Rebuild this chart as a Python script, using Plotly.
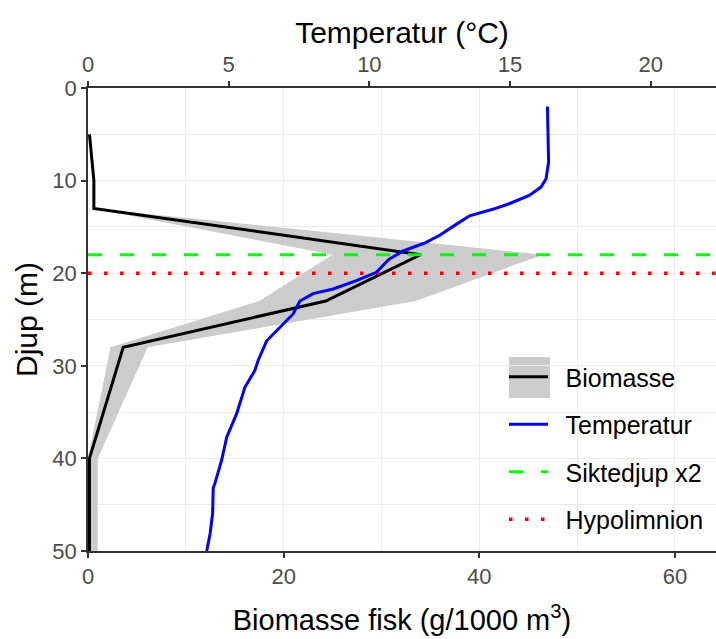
import plotly.graph_objects as go

# ---------------- data ----------------
bio_depth = [5, 7.5, 10, 13, 18, 23, 28, 40, 50]
bio_mean = [0.15, 0.4, 0.6, 0.6, 34.0, 24.3, 3.6, 0.15, 0.15]
bio_low = [0.1, 0.3, 0.5, 0.5, 25.0, 17.5, 2.3, 0.0, 0.0]
bio_high = [0.2, 0.5, 0.7, 0.7, 46.5, 33.5, 6.1, 1.0, 1.0]

temp_depth = [2, 8, 9.8, 10.7, 11.6, 12.5, 13.1, 13.8, 14.7, 15.9, 16.7, 17.6,
              18.5, 19.9, 20.8, 21.7, 22.2, 23.0, 24.4, 25.8, 27.3, 29.4, 30.5,
              32.3, 35.2, 37.7, 40.2, 42.7, 43.2, 45.9, 48.1, 50]
temp_c = [16.33, 16.37, 16.28, 16.1, 15.68, 14.97, 14.38, 13.56, 13.1, 12.5,
          12.0, 11.2, 10.7, 10.25, 9.54, 8.71, 8.0, 7.53, 7.29, 6.82, 6.35,
          6.05, 5.93, 5.58, 5.28, 4.93, 4.75, 4.51, 4.45, 4.43, 4.34, 4.22]

siktedjup_x2 = 18
hypolimnion = 20

bio_ticks = [0, 20, 40, 60]
temp_ticks = [0, 5, 10, 15, 20]
depth_ticks = [0, 10, 20, 30, 40, 50]

bio_range = [0, 64.2]
temp_range = [0, 22.32]
depth_range = [50, 0]

FONT = "Liberation Sans, Arial, sans-serif"
GRID = "#EBEBEB"
AXIS = "#333333"
TICKTXT = "#4D4D4D"
PAD = "\u2002"  # small gap between legend key and label

fig = go.Figure()

# ribbon
fig.add_trace(go.Scatter(
    x=bio_high + bio_low[::-1], y=bio_depth + bio_depth[::-1],
    fill="toself", fillcolor="#CCCCCC", line=dict(width=0),
    mode="lines", showlegend=False, hoverinfo="skip", xaxis="x", yaxis="y"))

fig.add_trace(go.Scatter(
    x=bio_mean, y=bio_depth, mode="lines", name=PAD + "Biomasse",
    line=dict(color="black", width=3), legendgroup="a", xaxis="x", yaxis="y"))

fig.add_trace(go.Scatter(
    x=temp_c, y=temp_depth, mode="lines", name=PAD + "Temperatur",
    line=dict(color="#0000FF", width=3), legendgroup="b", xaxis="x2", yaxis="y"))

fig.add_trace(go.Scatter(
    x=bio_range, y=[siktedjup_x2, siktedjup_x2], mode="lines", name=PAD + "Siktedjup x2",
    line=dict(color="#00FF00", width=3, dash="14px,18px"), legendgroup="c",
    xaxis="x", yaxis="y"))

fig.add_trace(go.Scatter(
    x=bio_range, y=[hypolimnion, hypolimnion], mode="lines", name=PAD + "Hypolimnion",
    line=dict(color="#FF0000", width=3.5, dash="3.5px,12.5px"), legendgroup="d",
    xaxis="x", yaxis="y"))

W, H = 716, 639
ML, MR, MT, MB = 88, 0, 88, 88
pw, ph = W - ML - MR, H - MT - MB


def px2paper_x(px):
    return (px - ML) / pw


def px2paper_y(py):
    return (H - MB - py) / ph


shapes = [
    dict(type="rect", xref="paper", yref="paper", layer="between",
         x0=px2paper_x(490), x1=px2paper_x(716), y0=px2paper_y(549), y1=px2paper_y(328),
         fillcolor="white", line=dict(width=0)),
    dict(type="rect", xref="paper", yref="paper", layer="between",
         x0=px2paper_x(509), x1=px2paper_x(550), y0=px2paper_y(398), y1=px2paper_y(357),
         fillcolor="#CCCCCC", line=dict(width=0)),
]

fig.update_layout(
    width=W, height=H,
    margin=dict(l=ML, r=MR, t=MT, b=MB, pad=0, autoexpand=False),
    plot_bgcolor="white", paper_bgcolor="white",
    font=dict(family=FONT, color="black"),
    showlegend=True,
    legend=dict(x=px2paper_x(504), y=px2paper_y(354), xanchor="left", yanchor="top",
                bgcolor="rgba(0,0,0,0)", font=dict(size=25, family=FONT, color="black"),
                itemwidth=39, tracegroupgap=12, traceorder="grouped"),
    shapes=shapes,
    xaxis=dict(
        range=bio_range, tickvals=bio_ticks, showgrid=True, gridcolor=GRID, gridwidth=1.3,
        minor=dict(dtick=10, showgrid=True, gridcolor=GRID, gridwidth=1.3, ticks=""),
        zeroline=False, showline=True, linecolor=AXIS, linewidth=1.5, automargin=False,
        ticks="outside", ticklen=5, tickcolor=AXIS, tickwidth=1.5,
        tickfont=dict(size=22, color=TICKTXT, family=FONT),
        title=dict(text="Biomasse fisk (g/1000 m<sup>3</sup>)",
                   font=dict(size=29, family=FONT, color="black"), standoff=22),
    ),
    xaxis2=dict(
        overlaying="x", side="top", anchor="y", range=temp_range, tickvals=temp_ticks,
        showgrid=False, zeroline=False, showline=True, linecolor=AXIS, linewidth=1.5,
        automargin=False,
        ticks="outside", ticklen=5, tickcolor=AXIS, tickwidth=1.5,
        tickfont=dict(size=22, color=TICKTXT, family=FONT),
        title=dict(text="Temperatur (°C)", font=dict(size=30, family=FONT, color="black"),
                   standoff=0),
    ),
    yaxis=dict(
        range=depth_range, tickvals=depth_ticks, showgrid=True, gridcolor=GRID, gridwidth=1.3,
        minor=dict(dtick=5, showgrid=True, gridcolor=GRID, gridwidth=1.3, ticks=""),
        zeroline=False, showline=True, linecolor=AXIS, linewidth=1.5, automargin=False,
        ticks="outside", ticklen=5, tickcolor=AXIS, tickwidth=1.5,
        tickfont=dict(size=22, color=TICKTXT, family=FONT),
        title=dict(text="Djup (m)", font=dict(size=30, family=FONT, color="black"),
                   standoff=6),
    ),
)

fig.write_html("out.html", config={"displayModeBar": False},
               post_script="document.body.style.margin='0';document.body.style.padding='0';")
